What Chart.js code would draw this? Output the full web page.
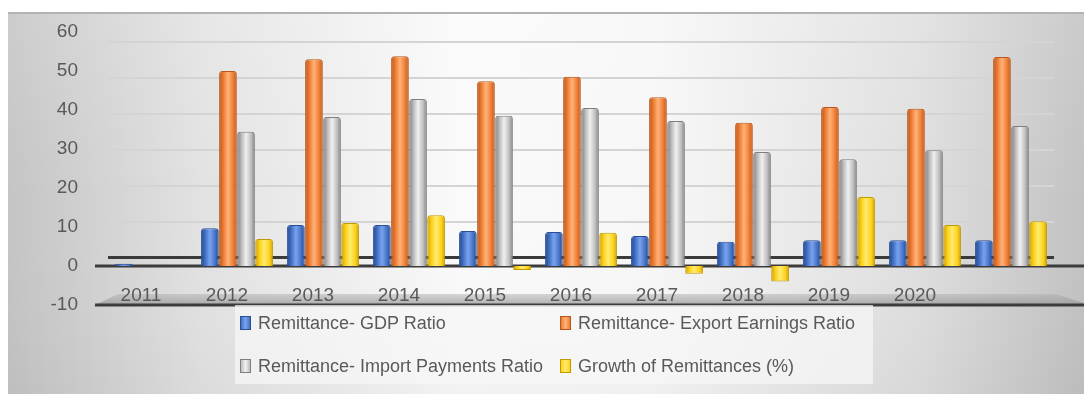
<!DOCTYPE html>
<html>
<head>
<meta charset="utf-8">
<script src="https://cdn.jsdelivr.net/npm/chart.js@4/dist/chart.umd.min.js"></script>
<style>
  html, body { margin: 0; padding: 0; background: #ffffff; }
  #wrap { position: relative; width: 1084px; height: 394px; overflow: hidden; }
  #c { position: absolute; left: 0; top: 0; }
  #legend { position: absolute; left: 235px; top: 305px; width: 638px; height: 79px;
            background: rgba(246,246,246,0.72); font-family: 'Liberation Sans', Arial, sans-serif;
            font-size: 18px; color: #595959; }
  .item { position: absolute; height: 20px; line-height: 20px; white-space: nowrap; }
  .sw { position: absolute; left: 0; top: 3px; width: 9px; height: 12px; border: 1.5px solid; }
  .lbl { position: absolute; left: 18px; top: 0; }
</style>
</head>
<body>
<div id="wrap">
  <canvas id="c" width="1084" height="394"></canvas>
  <div id="legend"></div>
</div>
<script>
// ---- data ----
const categories = ['2011','2012','2013','2014','2015','2016','2017','2018','2019','2020',''];
const gdpRatio     = [0.6, 9.7, 10.5, 10.5, 9.0, 8.7, 7.7, 6.2, 6.6, 6.6, 6.6];
const exportRatio  = [null, 50.0, 53.0, 53.8, 47.4, 48.5, 43.3, 36.7, 40.8, 40.3, 53.6];
const importRatio  = [null, 34.4, 38.2, 42.8, 38.5, 40.5, 37.2, 29.2, 27.4, 29.7, 35.9];
const growthRemit  = [null, 6.9, 11.0, 13.0, -1.0, 8.5, -2.0, -4.0, 17.7, 10.5, 11.5];
const seriesNames  = ['Remittance- GDP Ratio','Remittance- Export Earnings Ratio',
                      'Remittance- Import Payments Ratio','Growth of Remittances (%)'];
const yTickMin = -10, yTickMax = 60, yTickStep = 10;

// ---- styles ----
const palette = [
  {base:'#4472c4', dark:'#1f4590', light:'#79a3ee', border:'#2b4f96'},
  {base:'#ed7d31', dark:'#b9531a', light:'#ffb27a', border:'#b8561b'},
  {base:'#bdbdbd', dark:'#7c7c7c', light:'#f0f0f0', border:'#7f7f7f'},
  {base:'#ffd11a', dark:'#c9a000', light:'#ffec70', border:'#c09a00'}
];
const FONT = "'Liberation Sans', Arial, sans-serif";
const TXT = '#595959';

const seriesData = [gdpRatio, exportRatio, importRatio, growthRemit];

// HTML legend
const legendEl = document.getElementById('legend');
const legendPos = [[5, 8], [325, 8], [5, 51], [325, 51]];
seriesNames.forEach((n, i) => {
  const d = document.createElement('div');
  d.className = 'item';
  d.style.left = legendPos[i][0] + 'px';
  d.style.top = legendPos[i][1] + 'px';
  const sw = document.createElement('span');
  sw.className = 'sw';
  sw.style.background = 'linear-gradient(90deg,' + palette[i].base + ',' + palette[i].light + ',' + palette[i].base + ')';
  sw.style.borderColor = palette[i].border;
  const t = document.createElement('span');
  t.className = 'lbl';
  t.textContent = n;
  d.appendChild(sw); d.appendChild(t);
  legendEl.appendChild(d);
});

const zeroPad = s => { s.paddingTop = 0; s.paddingBottom = 0; s.paddingLeft = 0; s.paddingRight = 0; };

const bgPlugin = {
  id: 'bg',
  beforeDraw(chart) {
    const ctx = chart.ctx, W = chart.width, H = chart.height;
    ctx.save();
    ctx.fillStyle = '#ffffff';
    ctx.fillRect(0, 0, W, H);
    const g = ctx.createLinearGradient(8, 0, W, 0);
    g.addColorStop(0, '#c4c4c4');
    g.addColorStop(0.18, '#e2e2e2');
    g.addColorStop(0.42, '#fafafa');
    g.addColorStop(0.6, '#f7f7f7');
    g.addColorStop(0.85, '#dedede');
    g.addColorStop(1, '#c2c2c2');
    ctx.fillStyle = g;
    ctx.fillRect(8, 12, W - 8, H - 12);
    const gv = ctx.createLinearGradient(0, 12, 0, H);
    gv.addColorStop(0, 'rgba(255,255,255,0.15)');
    gv.addColorStop(0.5, 'rgba(255,255,255,0)');
    gv.addColorStop(1, 'rgba(0,0,0,0.03)');
    ctx.fillStyle = gv;
    ctx.fillRect(8, 12, W - 8, H - 12);
    ctx.strokeStyle = '#b3b3b3';
    ctx.lineWidth = 2;
    ctx.beginPath(); ctx.moveTo(8, 13); ctx.lineTo(W, 13); ctx.stroke();
    // floor band
    const y = chart.scales.y;
    const yb = y.getPixelForValue(yTickMin);
    const left = chart.chartArea.left;
    const gf = ctx.createLinearGradient(0, yb - 12, 0, yb);
    gf.addColorStop(0, 'rgba(175,175,175,0.45)');
    gf.addColorStop(1, 'rgba(150,150,150,0.75)');
    ctx.fillStyle = gf;
    ctx.beginPath();
    ctx.moveTo(left - 13, yb);
    ctx.lineTo(W, yb);
    ctx.lineTo(W, yb - 2);
    ctx.lineTo(W - 28, yb - 11);
    ctx.lineTo(left + 10, yb - 11);
    ctx.closePath();
    ctx.fill();
    ctx.restore();
  },
  beforeDatasetsDraw(chart) {
    const ctx = chart.ctx, W = chart.width;
    const y = chart.scales.y;
    const left = chart.chartArea.left;
    ctx.save();
    ctx.strokeStyle = '#3c3c3c';
    ctx.lineWidth = 3;
    [0, yTickMin].forEach(v => {
      const py = y.getPixelForValue(v);
      ctx.beginPath(); ctx.moveTo(left - 13, py); ctx.lineTo(W, py); ctx.stroke();
    });
    ctx.restore();
    // cylinder shading for bars
    chart.data.datasets.forEach((ds, di) => {
      const meta = chart.getDatasetMeta(di);
      const p = palette[di];
      meta.data.forEach(el => {
        const pr = el.getProps(['x', 'width'], true);
        if (!isFinite(pr.x) || !isFinite(pr.width)) return;
        const g = ctx.createLinearGradient(pr.x - pr.width / 2, 0, pr.x + pr.width / 2, 0);
        g.addColorStop(0, p.dark);
        g.addColorStop(0.25, p.base);
        g.addColorStop(0.5, p.light);
        g.addColorStop(0.8, p.base);
        g.addColorStop(1, p.dark);
        el.options.backgroundColor = g;
      });
    });
  }
};

new Chart(document.getElementById('c'), {
  type: 'bar',
  data: {
    labels: categories,
    datasets: seriesData.map((d, i) => ({
      label: seriesNames[i],
      data: d,
      backgroundColor: () => palette[i].base,
      borderColor: palette[i].border,
      borderWidth: 1,
      borderSkipped: 'start',
      borderRadius: {topLeft: 3, topRight: 3, bottomLeft: 0, bottomRight: 0},
      categoryPercentage: 0.84,
      barPercentage: 0.98,
      yAxisID: 'y'
    }))
  },
  options: {
    responsive: false,
    animation: false,
    devicePixelRatio: 1,
    layout: { padding: { top: 32, right: 30, left: 0, bottom: 89 } },
    plugins: { legend: { display: false }, tooltip: { enabled: false } },
    scales: {
      x: {
        position: { y: -4.8 },
        grid: { display: false, drawTicks: false },
        border: { display: false },
        ticks: { padding: 0, labelOffset: -10, color: TXT, font: { family: FONT, size: 19 },
                 maxRotation: 0, autoSkip: false },
        afterFit: zeroPad
      },
      y: {
        min: yTickMin, max: yTickMax,
        grid: { display: false, drawTicks: false },
        border: { display: false },
        ticks: { stepSize: yTickStep, padding: 30, color: TXT, font: { family: FONT, size: 19 } },
        afterFit: s => { s.width = 108; zeroPad(s); }
      },
      wall: {
        position: 'right',
        min: -13.06, max: 62.78,
        border: { display: false },
        ticks: { display: false, stepSize: yTickStep, includeBounds: false },
        grid: {
          drawTicks: false,
          color: c => (c.tick && c.tick.value === 0) ? '#3a3a3a'
                    : (c.tick && c.tick.value > 0) ? '#d4d4d4' : 'rgba(0,0,0,0)',
          lineWidth: c => (c.tick && c.tick.value === 0) ? 3 : 2
        },
        afterFit: s => { s.width = 0; zeroPad(s); }
      }
    }
  },
  plugins: [bgPlugin]
});
</script>
</body>
</html>
